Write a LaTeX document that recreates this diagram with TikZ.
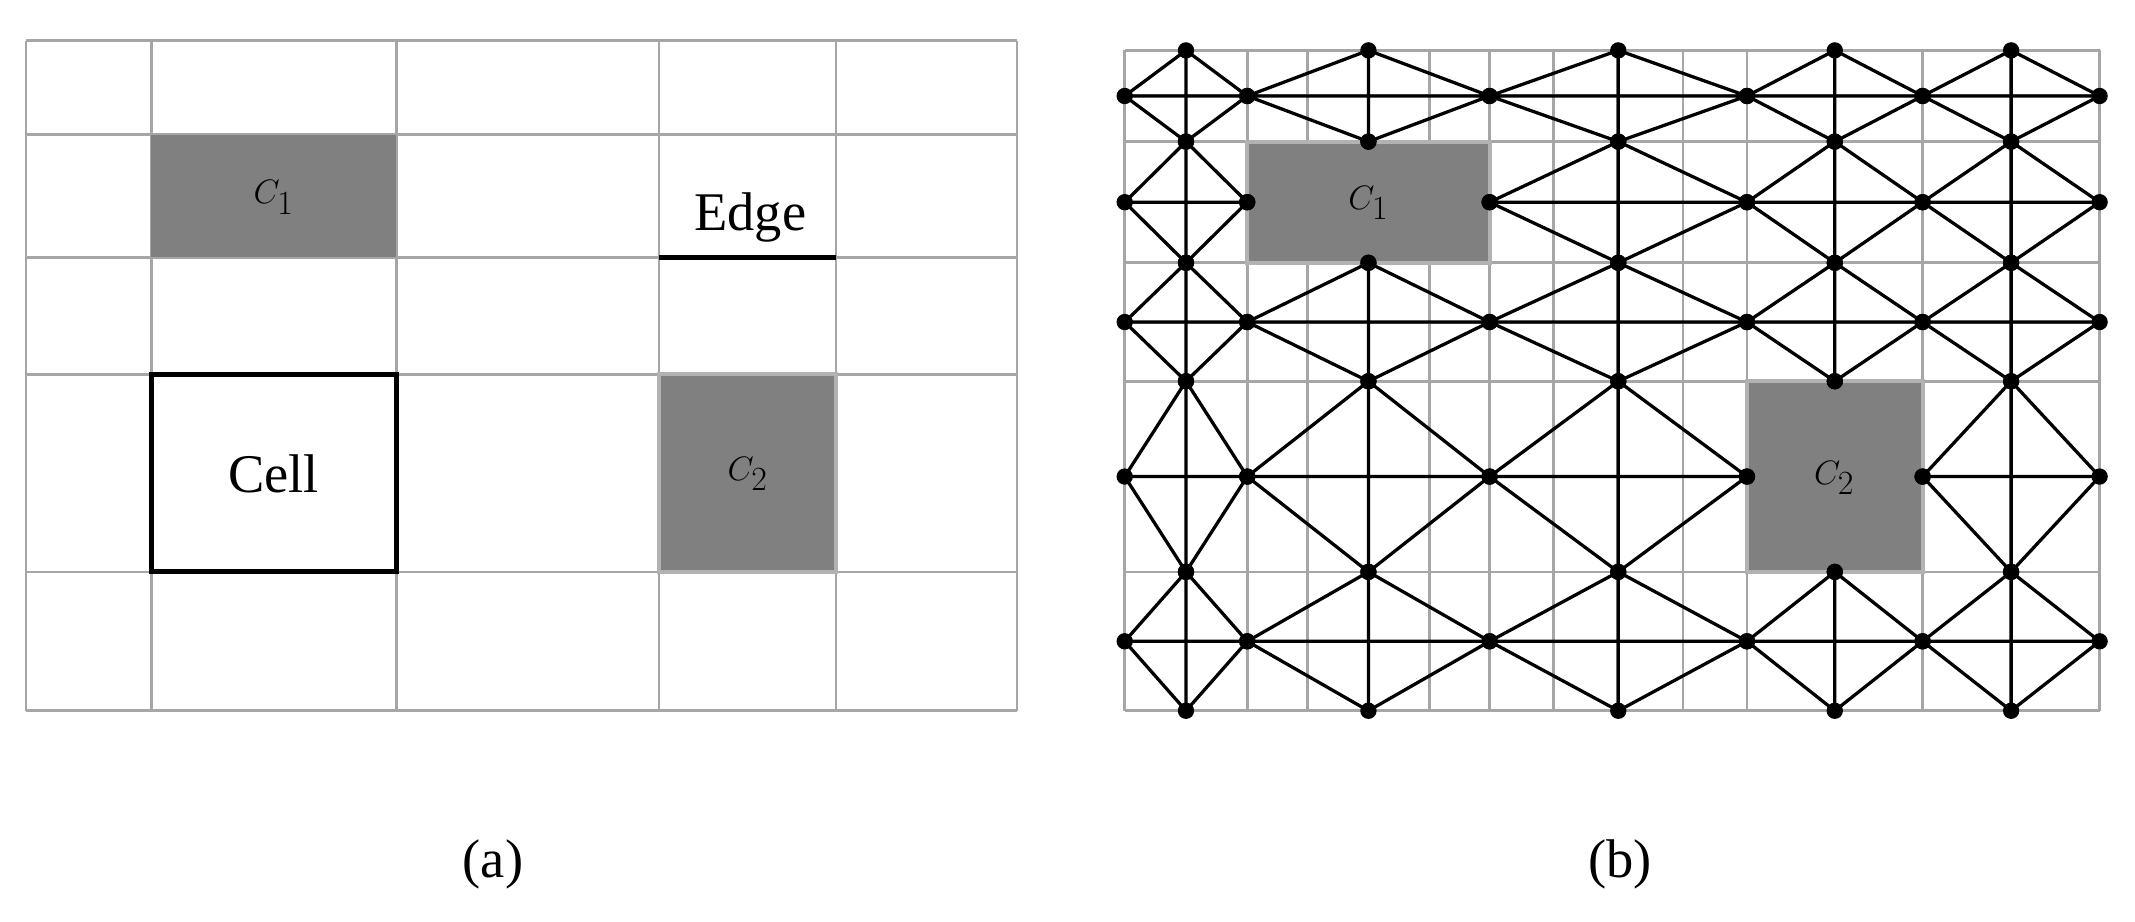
\documentclass[tikz,border=0pt]{standalone}
\usepackage{fontspec}
\setmainfont{Liberation Serif}
\begin{document}
\begin{tikzpicture}[x=1pt,y=-1pt,
  gline/.style={draw=black!35,line width=2pt},
  obst/.style={fill=black!50,draw=black!30,line width=3pt},
  gedge/.style={draw=black,line width=2.4pt},
  lbl/.style={font=\fontsize{40}{48}\selectfont,inner sep=0pt}]
\useasboundingbox (0,0) rectangle (1568,677);
% ---------- panel (a)
\foreach \x in {19,111,291,484,614,747} \draw[gline] (\x,30) -- (\x,522);
\foreach \y in {30,99,189,275,420,522} \draw[gline] (19,\y) -- (747,\y);
\fill[black!50] (111,99) rectangle (291,189);
\draw[obst] (484,275) rectangle (614,420);
\draw[line width=3.5pt] (111,275) rectangle (291,420);
\draw[line width=3.5pt] (484,189) -- (614,189);
\node[lbl] (c1a) at (201,145) {$C_1$};
\node[lbl] (c2a) at (549,348) {$C_2$};
\node[lbl] (cell) at (201,348) {Cell};
\node[lbl] (edge) at (551,160) {Edge};
\node[lbl] (la) at (362,635) {(a)};
\node[lbl] (lb) at (1190,635) {(b)};
% ---------- panel (b)
\foreach \x in {826,871,916,960,1005,1050,1094,1141,1188,1236,1283,1347,1412,1477,1542}
  \draw[gline] (\x,37) -- (\x,522);
\foreach \y in {37,70,104,149,193,237,280,350,420,471,522}
  \draw[gline] (826,\y) -- (1542,\y);
\draw[obst] (916,104) rectangle (1094,193);
\draw[obst] (1283,280) rectangle (1412,420);
\node[lbl] (c1b) at (1005,149) {$C_1$};
\node[lbl] (c2b) at (1347,351) {$C_2$};
\foreach \xa/\xb [count=\ci] in {826/916,916/1094,1094/1283,1283/1412,1412/1542}{
  \foreach \ya/\yb [count=\cj] in {37/104,104/193,193/280,280/420,420/522}{
    \pgfmathsetmacro\xm{(\xa+\xb)/2}
    \pgfmathsetmacro\ym{(\ya+\yb)/2}
    \coordinate (L) at (\xa,\ym);
    \coordinate (R) at (\xb,\ym);
    \coordinate (T) at (\xm,\ya);
    \coordinate (B) at (\xm,\yb);
    \pgfmathtruncatemacro\obs{((\ci==2)&&(\cj==2))||((\ci==4)&&(\cj==4))}
    \ifnum\obs=0
      \draw[gedge] (L) -- (R) (T) -- (B) (L) -- (T) -- (R) -- (B) -- cycle;
    \fi
  }}
\foreach \xa/\xb in {826/916,916/1094,1094/1283,1283/1412,1412/1542}{
  \foreach \ya/\yb in {37/104,104/193,193/280,280/420,420/522}{
    \pgfmathsetmacro\xm{(\xa+\xb)/2}
    \pgfmathsetmacro\ym{(\ya+\yb)/2}
    \fill (\xa,\ym) circle (6) (\xb,\ym) circle (6) (\xm,\ya) circle (6) (\xm,\yb) circle (6);
  }}
\end{tikzpicture}
\end{document}
